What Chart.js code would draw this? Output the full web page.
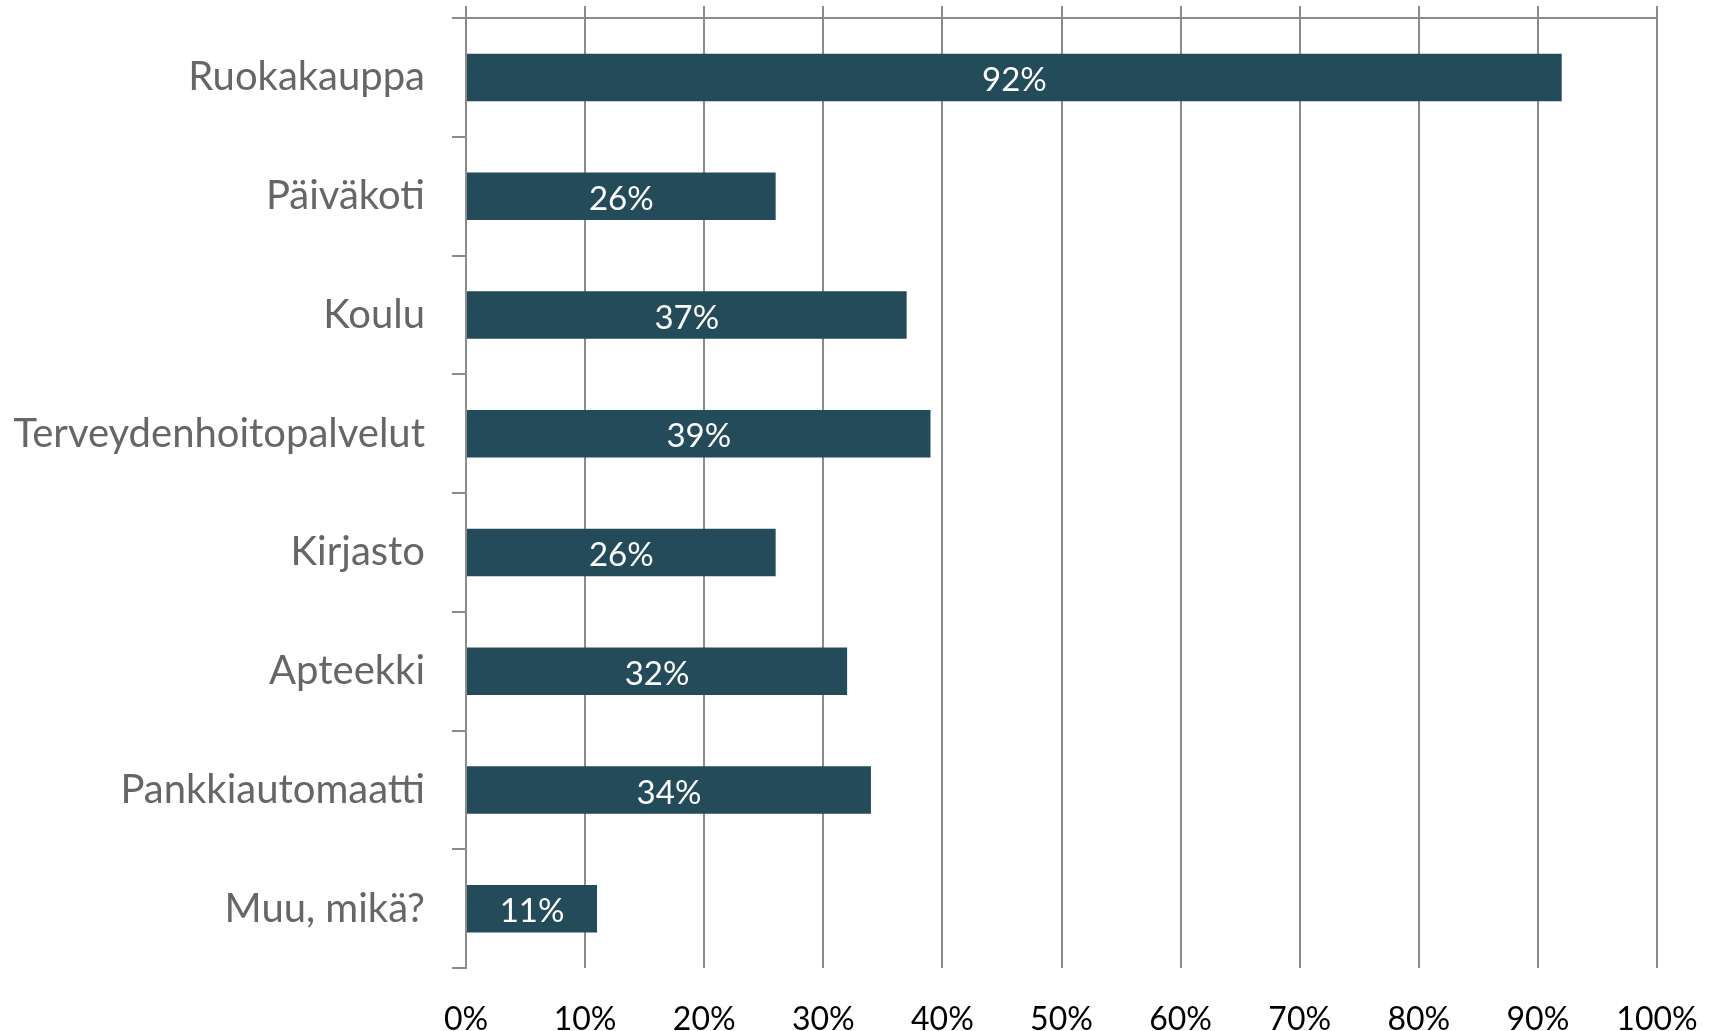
<!DOCTYPE html>
<html>
<head>
<meta charset="utf-8">
<script src="https://cdn.jsdelivr.net/npm/chart.js@4.4.0/dist/chart.umd.min.js"></script>
<style>
  html, body { margin: 0; padding: 0; background: #fff; }
  #wrap { width: 1720px; height: 1031px; }
</style>
</head>
<body>
<div id="wrap"><canvas id="BarChart" width="1720" height="1031"></canvas></div>
<script>
// 카테고리, 값
const categories = ['Ruokakauppa', 'Päiväkoti', 'Koulu', 'Terveydenhoitopalvelut', 'Kirjasto', 'Apteekki', 'Pankkiautomaatti', 'Muu, mikä?'];
const values = [92, 26, 37, 39, 26, 32, 34, 11];
const tickValues = [0, 10, 20, 30, 40, 50, 60, 70, 80, 90, 100];

const barColor = '#234b59';
const gridColor = '#8c8c8c';
const fontFamily = 'Lato, "Open Sans", sans-serif';

// 막대 가운데에 숫자 쓰기
const barLabelPlugin = {
    id: 'barLabelPlugin',
    afterDatasetsDraw: (chart) => {
        const { ctx } = chart;
        const meta = chart.getDatasetMeta(0);
        ctx.save();
        ctx.font = '33px ' + fontFamily;
        ctx.fillStyle = '#ffffff';
        ctx.textAlign = 'center';
        ctx.textBaseline = 'middle';
        meta.data.forEach((bar, i) => {
            const cx = (bar.x + bar.base) / 2;
            ctx.fillText(values[i] + '%', cx, bar.y + 3);
        });
        ctx.restore();
    }
};

const bar_chart = () => {
    const ctx = document.getElementById('BarChart');
    if (!ctx) return;

    new Chart(ctx, {
        type: 'bar',
        data: {
            labels: categories,
            datasets: [{
                data: values,
                backgroundColor: barColor,
                borderWidth: 0,
                categoryPercentage: 0.4,
                barPercentage: 1.0
            }]
        },
        options: {
            responsive: false,
            animation: false,
            indexAxis: 'y',
            layout: { padding: { top: 6, right: 63, bottom: 0, left: 0 } },
            plugins: {
                legend: { display: false },
                tooltip: { enabled: false }
            },
            scales: {
                x: {
                    position: 'bottom',
                    min: 0,
                    max: 100,
                    afterBuildTicks: (scale) => {
                        scale.ticks = tickValues.map(v => ({ value: v }));
                    },
                    // 패딩이 두 번 들어가서 높이를 직접 맞춤
                    afterFit: (scale) => {
                        scale.height = 63;
                        scale.paddingLeft = 0;
                        scale.paddingRight = 0;
                    },
                    grid: { color: gridColor, lineWidth: 2, drawTicks: false },
                    border: { display: false },
                    ticks: {
                        padding: 32,
                        color: '#000000',
                        font: { family: fontFamily, size: 32 },
                        callback: (v) => v + '%'
                    }
                },
                // 위쪽 가로선 + 위로 튀어나온 눈금
                x2: {
                    type: 'linear',
                    position: 'top',
                    min: 0,
                    max: 100,
                    afterBuildTicks: (scale) => {
                        scale.ticks = tickValues.map(v => ({ value: v }));
                    },
                    afterFit: (scale) => {
                        scale.paddingLeft = 0;
                        scale.paddingRight = 0;
                    },
                    grid: { color: gridColor, lineWidth: 2, drawOnChartArea: false, drawTicks: true, tickLength: 12 },
                    border: { display: true, color: gridColor, width: 2 },
                    ticks: { display: false }
                },
                y: {
                    position: 'left',
                    afterFit: (scale) => {
                        scale.width = 466;
                        scale.paddingTop = 0;
                        scale.paddingBottom = 0;
                    },
                    grid: { offset: true, drawOnChartArea: false, drawTicks: true, tickLength: 14, color: gridColor, lineWidth: 2 },
                    border: { display: true, color: gridColor, width: 2 },
                    ticks: {
                        padding: 27,
                        color: '#666666',
                        font: { family: fontFamily, size: 40 }
                    }
                }
            }
        },
        plugins: [barLabelPlugin]
    });
};

document.addEventListener('DOMContentLoaded', () => {
    bar_chart();
});
</script>
</body>
</html>
